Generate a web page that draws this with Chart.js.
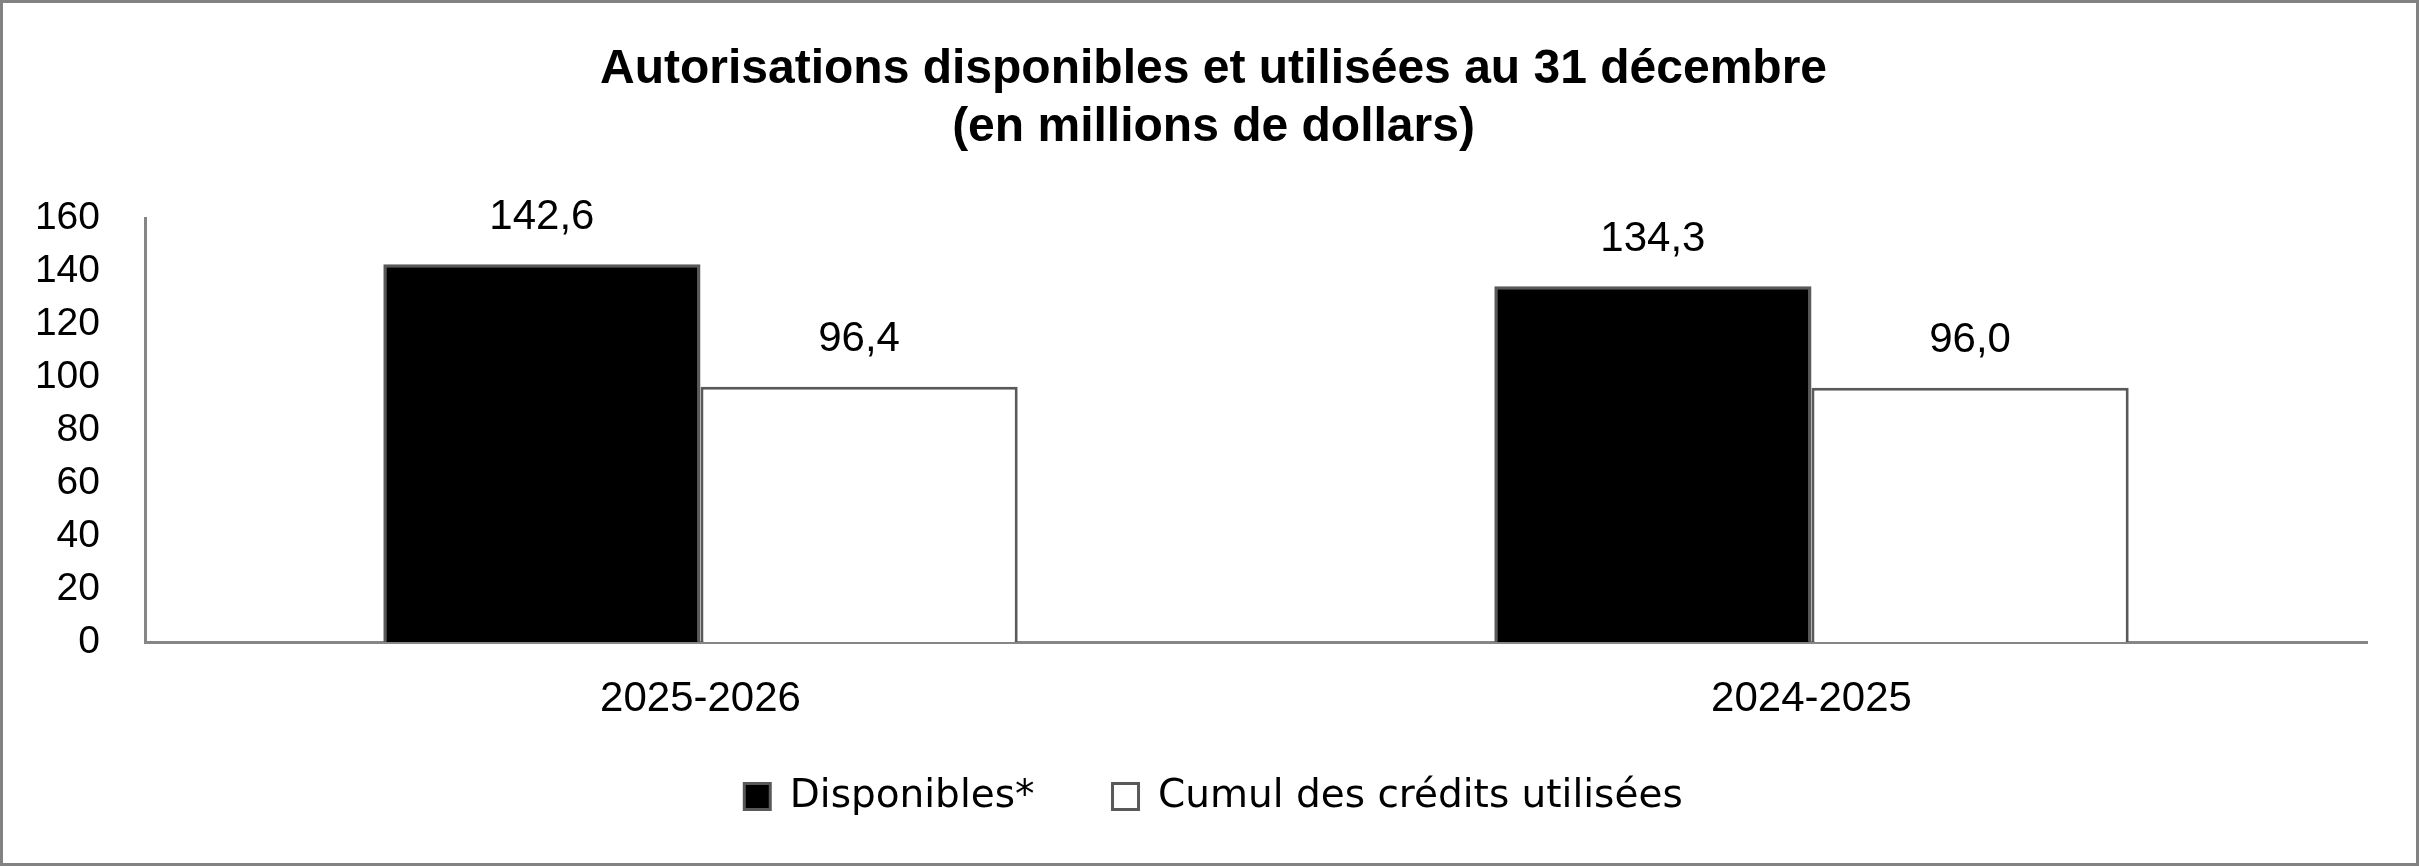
<!DOCTYPE html>
<html lang="fr">
<head>
<meta charset="utf-8">
<title>Autorisations disponibles et utilisées</title>
<script src="https://cdn.jsdelivr.net/npm/chart.js@4/dist/chart.umd.min.js"></script>
<style>
  html, body { margin: 0; padding: 0; background: #fff; }
  #wrap { width: 2419px; height: 866px; }
</style>
</head>
<body>
<div id="wrap"><canvas id="chart" width="2419" height="866"></canvas></div>
<script>
const categories = ['2025-2026', '2024-2025'];
const disponibles = [142.6, 134.3];
const utilisees = [96.4, 96.0];
const seriesLabels = ['Disponibles*', 'Cumul des crédits utilisées'];
const titleLines = ['Autorisations disponibles et utilisées au 31 décembre', '(en millions de dollars)'];
const yMin = 0;
const yMax = 160;
const yStep = 20;

Chart.defaults.font.family = '"Liberation Sans", Arial, sans-serif';
Chart.defaults.color = '#000';

// values above the bars, french decimal comma
const valueLabels = {
  id: 'valueLabels',
  afterDatasetsDraw(chart) {
    const ctx = chart.ctx;
    ctx.save();
    ctx.font = '42px "Liberation Sans", Arial, sans-serif';
    ctx.fillStyle = '#000';
    ctx.textAlign = 'center';
    ctx.textBaseline = 'middle';
    chart.data.datasets.forEach((ds, i) => {
      chart.getDatasetMeta(i).data.forEach((bar, j) => {
        ctx.fillText(ds.data[j].toFixed(1).replace('.', ','), bar.x, bar.y - 47);
      });
    });
    ctx.restore();
  }
};

// grey frame round the whole picture
const frame = {
  id: 'frame',
  afterDraw(chart) {
    const ctx = chart.ctx;
    ctx.save();
    ctx.strokeStyle = '#828282';
    ctx.lineWidth = 3;
    ctx.strokeRect(1.5, 1.5, chart.width - 3, chart.height - 3);
    ctx.restore();
  }
};

new Chart(document.getElementById('chart'), {
  type: 'bar',
  data: {
    labels: categories,
    datasets: [
      {
        label: seriesLabels[0],
        data: disponibles,
        backgroundColor: '#000',
        borderColor: '#595959',
        borderWidth: 3
      },
      {
        label: seriesLabels[1],
        data: utilisees,
        backgroundColor: '#fff',
        borderColor: '#595959',
        borderWidth: 3
      }
    ]
  },
  options: {
    responsive: false,
    animation: false,
    layout: { padding: { left: 8, right: 0, top: 0, bottom: 40 } },
    datasets: {
      bar: { barPercentage: 1, categoryPercentage: 0.571 }
    },
    plugins: {
      title: {
        display: true,
        text: titleLines,
        color: '#000',
        font: { size: 48, weight: 'bold', lineHeight: 1.2 },
        padding: { top: 41, bottom: 62 }
      },
      legend: {
        position: 'bottom',
        labels: {
          color: '#000',
          font: { family: '"DejaVu Sans", sans-serif', size: 39 },
          boxWidth: 26,
          boxHeight: 26,
          padding: 78
        }
      },
      tooltip: { enabled: false }
    },
    scales: {
      x: {
        grid: { display: false, drawTicks: false },
        border: { display: true, color: '#868686', width: 3 },
        // mirrored labels are not clipped to the short axis box;
        // negative padding puts them back below the axis line
        ticks: { color: '#000', font: { size: 42 }, mirror: true, padding: -83 },
        afterFit: (scale) => { scale.height = 57; }
      },
      y: {
        min: yMin,
        max: yMax,
        grid: { display: false, drawTicks: false },
        border: { display: true, color: '#868686', width: 3 },
        ticks: { stepSize: yStep, color: '#000', font: { size: 39 }, padding: 45 },
        afterFit: (scale) => { scale.width = 137; }
      },
      yRight: {
        position: 'right',
        grid: { display: false, drawTicks: false },
        border: { display: false },
        ticks: { display: false },
        afterFit: (scale) => { scale.width = 52; }
      }
    }
  },
  plugins: [valueLabels, frame]
});
</script>
</body>
</html>
